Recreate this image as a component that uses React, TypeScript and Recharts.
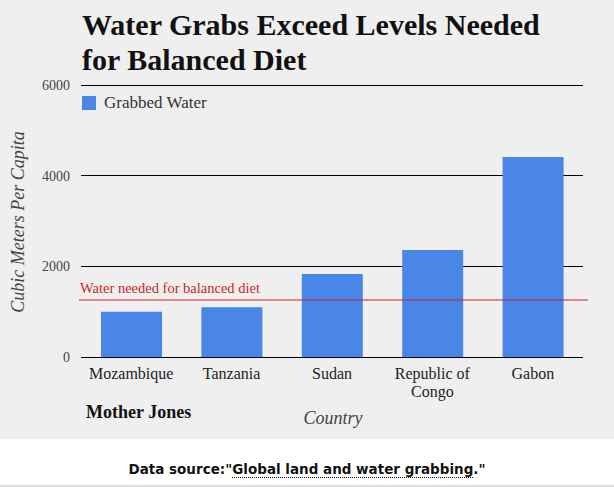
import { Bar, BarChart, CartesianGrid, ReferenceLine, XAxis, YAxis } from "recharts"

const countries = ["Mozambique", "Tanzania", "Sudan", "Republic of Congo", "Gabon"]
const grabbedWater = [1000, 1100, 1830, 2360, 4410]
const yTicks = [0, 2000, 4000, 6000]
const dietNeed = 1257

const data = countries.map((name, i) => ({ name, grabbed: grabbedWater[i] }))

const serif = "'Liberation Serif', 'DejaVu Serif', serif"

function CountryTick(props: any) {
  const { x, y, payload } = props
  const words = String(payload.value)
  const lines = words === "Republic of Congo" ? ["Republic of", "Congo"] : [words]
  return (
    <text x={x} y={y} textAnchor="middle" fill="#222" fontFamily={serif} fontSize={16}>
      {lines.map((l, i) => (
        <tspan key={l} x={x} dy={i === 0 ? 14 : 18}>
          {l}
        </tspan>
      ))}
    </text>
  )
}

function DietLine(props: any) {
  const { x1, x2, y1 } = props
  return <line x1={x1 - 2} x2={x2 + 5} y1={y1} y2={y1} stroke="#cc1f2a" strokeWidth={1} />
}

export default function App() {
  return (
    <div style={{ position: "absolute", left: 0, top: 0, width: 614, height: 487, background: "#fff" }}>
      <div style={{ position: "absolute", left: 0, top: 0, width: 614, height: 439, background: "#efefef" }}>
        <BarChart
          width={614}
          height={439}
          data={data}
          margin={{ top: 85, right: 31, bottom: 52, left: 0 }}
        >
          <CartesianGrid vertical={false} stroke="#000" strokeWidth={1} shapeRendering="crispEdges" />
          <XAxis
            dataKey="name"
            height={30}
            axisLine={false}
            tickLine={false}
            tick={<CountryTick />}
            interval={0}
          />
          <YAxis
            width={81}
            domain={[0, 6000]}
            ticks={yTicks}
            axisLine={false}
            tickLine={false}
            tickSize={0}
            tickMargin={11}
            tick={{ fill: "#444", fontFamily: serif, fontSize: 14 }}
          />
          <Bar dataKey="grabbed" name="Grabbed Water" fill="#4a86e8" barSize={61} isAnimationActive={false} />
          <ReferenceLine
            y={dietNeed}
            shape={<DietLine />}
            label={{
              value: "Water needed for balanced diet",
              position: "insideTopLeft",
              fill: "#cc1f2a",
              fontFamily: serif,
              fontSize: 14.5,
              offset: 0,
              dy: -17,
              dx: -1,
            }}
          />
        </BarChart>
        <div
          style={{
            position: "absolute",
            left: 82,
            top: 93,
            display: "flex",
            alignItems: "center",
            fontFamily: serif,
            fontSize: 17,
            color: "#333",
          }}
        >
          <span style={{ width: 14, height: 14, background: "#4a86e8", display: "inline-block", marginRight: 8 }} />
          Grabbed Water
        </div>
        <div
          style={{
            position: "absolute",
            left: 82,
            top: 7,
            fontFamily: serif,
            fontWeight: "bold",
            fontSize: 30,
            lineHeight: "35px",
            color: "#111",
          }}
        >
          Water Grabs Exceed Levels Needed
          <br />
          for Balanced Diet
        </div>
        <div
          style={{
            position: "absolute",
            left: 18,
            top: 222,
            transform: "translate(-50%, -50%) rotate(-90deg)",
            whiteSpace: "nowrap",
            fontFamily: serif,
            fontStyle: "italic",
            fontSize: 18,
            color: "#444",
          }}
        >
          Cubic Meters Per Capita
        </div>
        <div
          style={{
            position: "absolute",
            left: 86,
            top: 402,
            fontFamily: serif,
            fontWeight: "bold",
            fontSize: 18,
            color: "#111",
          }}
        >
          Mother Jones
        </div>
        <div
          style={{
            position: "absolute",
            left: 333,
            top: 408,
            transform: "translateX(-50%)",
            fontFamily: serif,
            fontStyle: "italic",
            fontSize: 18,
            color: "#444",
          }}
        >
          Country
        </div>
      </div>
      <div
        style={{
          position: "absolute",
          left: 0,
          top: 461,
          width: 614,
          textAlign: "center",
          fontFamily: "'DejaVu Sans', sans-serif",
          fontWeight: "bold",
          fontSize: 13.5,
          color: "#111",
        }}
      >
        Data source:"
        <span style={{ borderBottom: "1px dotted #111" }}>Global land and water grabbing</span>
        ."
      </div>
      <div style={{ position: "absolute", left: 0, top: 485, width: 614, height: 2, background: "#ddd" }} />
    </div>
  )
}
